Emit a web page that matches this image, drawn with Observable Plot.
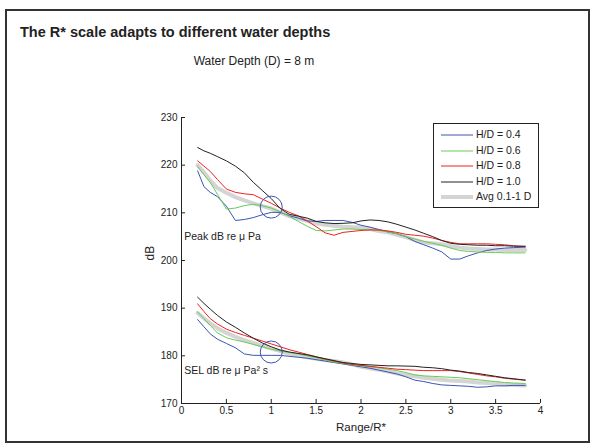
<!DOCTYPE html>
<html><head><meta charset="utf-8">
<script src="https://cdn.jsdelivr.net/npm/d3@7"></script>
<script src="https://cdn.jsdelivr.net/npm/@observablehq/plot@0.6"></script>
<style>
body{margin:0;background:#fff;font-family:"Liberation Sans",Arial,sans-serif;color:#222;}
#wrap{position:relative;width:592px;height:446px;overflow:hidden;background:#fff;}
#frame{position:absolute;left:5px;top:9px;width:581px;height:430px;border:2px solid #333;pointer-events:none;}
#title{position:absolute;left:20px;top:24px;font-weight:bold;font-size:14.5px;white-space:nowrap;}
#subtitle{position:absolute;left:0;width:508px;top:54px;text-align:center;font-size:12px;white-space:nowrap;}
#chart{position:absolute;left:0;top:0;}
#legend{position:absolute;left:433px;top:123px;width:104px;height:83px;border:1px solid #222;background:#fff;font-size:10.5px;}
.row{position:absolute;left:0;height:15px;width:104px;}
.row svg{position:absolute;left:5px;top:0;}
.row span.tx{position:absolute;left:42px;top:1px;white-space:nowrap;}
</style></head>
<body>
<div id="wrap">
  <div id="chart"></div>
  <div id="title">The R* scale adapts to different water depths</div>
  <div id="subtitle">Water Depth (D) = 8 m</div>
  <div id="legend"></div>
  <div id="frame"></div>
</div>
<script>
const xs = [0.18,0.25,0.32,0.4,0.5,0.6,0.7,0.8,0.9,1.0,1.1,1.2,1.3,1.4,1.5,1.6,1.7,1.8,1.9,2.0,2.1,2.2,2.3,2.4,2.5,2.6,2.7,2.8,2.9,3.0,3.1,3.2,3.3,3.4,3.5,3.6,3.7,3.83];

const seriesNames = ["H/D = 0.4","H/D = 0.6","H/D = 0.8","H/D = 1.0","Avg 0.1-1 D"];
const seriesColors = ["#3a55b4","#66cc55","#f02020","#222222","#d4d4d4"];
const seriesWidths = [1,1,1,1,4];

// Peak dB re µPa
const peak04 = [218.8,215.5,214.3,213.4,211.4,208.4,208.6,209.0,209.6,210.1,210.1,209.4,208.9,208.3,208.2,208.4,208.4,208.4,208.0,207.4,207.0,206.5,206.0,205.6,205.0,204.0,203.3,202.6,201.8,200.3,200.3,201.0,201.6,202.1,202.4,202.6,202.7,202.8];
const peak06 = [219.7,218.0,216.4,213.9,210.8,211.0,211.5,211.8,211.5,211.0,210.2,209.3,208.2,207.2,206.3,206.2,206.4,206.6,206.6,206.5,206.5,206.3,206.0,205.6,205.0,204.5,204.0,203.6,203.2,202.6,202.1,201.9,201.8,201.7,201.7,201.6,201.6,201.6];
const peak08 = [220.9,219.8,218.7,217.0,215.0,214.3,214.0,213.8,212.9,212.0,211.0,210.1,209.4,208.3,207.1,205.8,205.3,205.9,206.1,206.3,206.4,206.4,206.2,205.9,205.5,205.3,205.1,204.7,204.2,203.8,203.5,203.5,203.5,203.5,203.4,203.3,203.1,202.9];
const peak10 = [223.7,223.0,222.5,221.8,220.9,219.8,218.4,216.4,214.7,213.0,210.9,209.7,209.3,208.9,208.2,207.9,207.75,207.8,207.9,208.3,208.5,208.4,208.1,207.6,207.0,206.4,205.7,205.0,204.2,203.6,203.4,203.3,203.2,203.2,203.1,203.1,203.0,203.0];
const peakAvg = [220.0,218.5,216.8,215.2,214.2,213.3,212.6,212.0,211.4,210.9,210.1,209.3,208.8,208.3,207.8,207.5,207.3,207.1,207.0,206.9,206.6,206.2,205.9,205.4,204.9,204.3,203.8,203.6,203.4,203.0,202.7,202.5,202.4,202.3,202.3,202.2,202.2,202.2];

// SEL dB re µPa² s
const sel04 = [187.6,186.1,184.6,183.5,182.6,181.7,180.4,180.1,180.1,180.1,180.1,179.9,179.7,179.5,179.2,178.9,178.6,178.3,178.0,177.7,177.4,177.0,176.6,176.2,175.6,174.9,174.6,174.2,173.9,173.8,173.7,173.6,173.4,173.5,173.7,173.7,173.8,173.8];
const sel06 = [189.2,187.8,186.4,184.8,183.8,183.3,182.9,182.4,181.9,181.4,181.0,180.7,180.4,180.0,179.6,179.1,178.7,178.4,178.1,177.9,177.7,177.5,177.2,176.9,176.5,176.0,175.8,175.7,175.6,175.5,175.4,175.2,175.0,174.8,174.6,174.4,174.3,174.2];
const sel08 = [190.9,189.3,187.8,186.7,185.6,184.9,184.3,183.7,183.1,182.5,181.9,181.3,180.8,180.3,179.8,179.3,178.9,178.5,178.2,178.0,177.8,177.6,177.4,177.2,177.1,177.0,176.9,176.9,176.9,176.9,176.7,176.4,176.1,175.8,175.6,175.3,175.1,174.9];
const sel10 = [192.3,191.0,189.8,188.5,187.1,186.0,184.8,183.7,182.7,181.9,181.2,180.8,180.5,180.2,179.8,179.4,179.0,178.6,178.4,178.2,178.1,178.0,177.9,177.9,177.85,177.8,177.6,177.5,177.3,177.0,176.8,176.5,176.3,176.0,175.7,175.4,175.2,174.9];
const selAvg = [189.0,187.9,186.8,185.8,184.8,184.0,183.3,182.7,182.1,181.5,181.0,180.5,180.1,179.7,179.4,179.1,178.9,178.6,178.2,177.7,177.4,177.1,176.7,176.3,176.0,175.7,175.4,175.2,175.0,174.8,174.7,174.6,174.4,174.3,174.2,174.0,173.9,173.8];

const xTicks = [0,0.5,1,1.5,2,2.5,3,3.5,4];
const yTicks = [170,180,190,200,210,220,230];
const circleCenters = [{x:1, y:211.2}, {x:1, y:180.8}];
const annotations = [{x:0.03, y:205.0, text:"Peak dB re μ Pa"}, {x:0.03, y:176.9, text:"SEL dB re μ Pa² s"}];

const peakSets = [peak04, peak06, peak08, peak10, peakAvg];
const selSets = [sel04, sel06, sel08, sel10, selAvg];

function rowsFor(i) {
  const out = [];
  [["peak", peakSets[i]], ["sel", selSets[i]]].forEach(([g, vals]) => {
    vals.forEach((v, j) => out.push({x: xs[j], y: v, key: g + i}));
  });
  return out;
}

const lineMarks = [];
// thick average first, colored series on top
[4,0,1,2,3].forEach(i => {
  lineMarks.push(Plot.line(rowsFor(i), {x:"x", y:"y", z:"key", stroke: seriesColors[i], strokeWidth: seriesWidths[i], strokeLinejoin:"round", strokeLinecap:"round"}));
});

const fmt = d => String(d);

const chart = Plot.plot({
  width: 592, height: 446,
  marginLeft: 181, marginRight: 52, marginTop: 117, marginBottom: 43,
  x: {domain: [0, 4]},
  y: {domain: [170, 230]},
  style: {fontFamily: '"Liberation Sans", Arial, sans-serif', fontSize: "10px", color: "#222", background: "transparent"},
  marks: [
    ...lineMarks,
    Plot.dot(circleCenters, {x:"x", y:"y", r:11, stroke:"#3a55b4", fill:"none", strokeWidth:1}),
    Plot.text(annotations, {x:"x", y:"y", text:"text", textAnchor:"start", fontSize:10.5, fill:"#222"}),
    Plot.ruleX([0], {y1:170, y2:230, stroke:"#222"}),
    Plot.ruleY([170], {x1:0, x2:4, stroke:"#222"}),
    Plot.ruleX(xTicks, {y1:170, y2:170.85, stroke:"#222"}),
    Plot.ruleY(yTicks, {x1:0, x2:0.045, stroke:"#222"}),
    Plot.axisX({ticks: xTicks, tickSize: 0, tickPadding: 3, tickFormat: fmt, label: null}),
    Plot.axisY({ticks: yTicks, tickSize: 0, tickPadding: 4, tickFormat: fmt, label: null}),
    Plot.text(["dB"], {frameAnchor:"left", rotate:-90, dx:-31, fontSize:12, fill:"#222"}),
    Plot.text(["Range/R*"], {frameAnchor:"bottom", dy:27, fontSize:11.5, fill:"#222"})
  ]
});
document.getElementById("chart").appendChild(chart);

const legend = document.getElementById("legend");
const NS = "http://www.w3.org/2000/svg";
seriesNames.forEach((name, i) => {
  const row = document.createElement("div");
  row.className = "row";
  row.style.top = (3 + i * 15.6) + "px";
  const svg = document.createElementNS(NS, "svg");
  svg.setAttribute("width", "36"); svg.setAttribute("height", "15");
  const ln = document.createElementNS(NS, "line");
  ln.setAttribute("x1", "2"); ln.setAttribute("x2", "34");
  ln.setAttribute("y1", "8"); ln.setAttribute("y2", "8");
  ln.setAttribute("stroke", seriesColors[i]);
  ln.setAttribute("stroke-width", seriesWidths[i]);
  svg.appendChild(ln);
  const tx = document.createElement("span");
  tx.className = "tx";
  tx.textContent = name;
  row.appendChild(svg); row.appendChild(tx);
  legend.appendChild(row);
});
</script>
</body></html>
